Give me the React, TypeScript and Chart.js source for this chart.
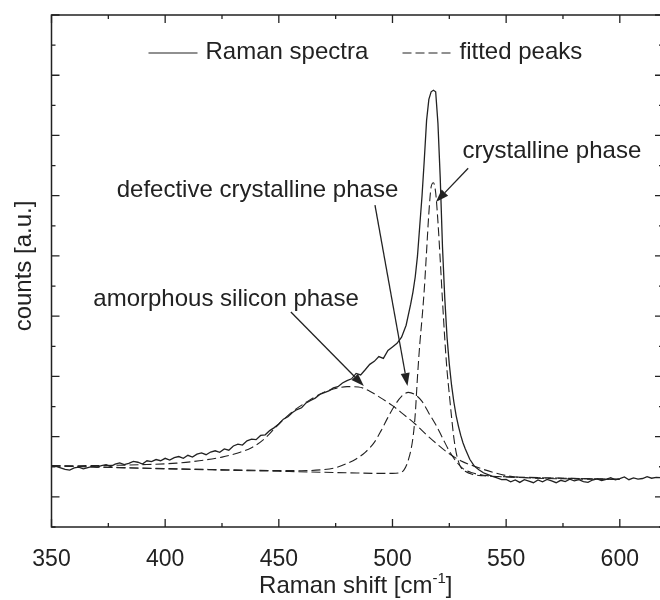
import React, { useEffect, useRef } from "react";
import { Chart, registerables } from "chart.js";

Chart.register(...registerables);

// ---- data (x: Raman shift in cm^-1, y: counts in arbitrary units) ----
const ramanX = [
  350, 352, 354, 356, 358, 360, 362, 364, 366, 368, 370, 372, 374, 376, 378, 380, 382, 384, 386, 388,
  390, 392, 394, 396, 398, 400, 402, 404, 406, 408, 410, 412, 414, 416, 418, 420, 422, 424, 426, 428,
  430, 432, 434, 436, 438, 440, 442, 444, 446, 448, 450, 452, 454, 456, 458, 460, 462, 464, 466, 468,
  470, 472, 474, 476, 478, 480, 482, 484, 486, 488, 490, 492, 494, 496, 498, 500, 502, 504, 506, 508,
  509, 510, 511, 512, 513, 514, 515, 516, 517, 518, 519, 520, 521, 522, 523, 524, 525, 526, 527, 528,
  529, 530, 531, 532, 534, 536, 538, 540, 542, 544, 546, 548, 550, 552, 554, 556, 558, 560, 562, 564,
  566, 568, 570, 572, 574, 576, 578, 580, 582, 584, 586, 588, 590, 592, 594, 596, 598, 600, 602, 604,
  606, 608, 610, 612, 614, 616, 618,
];
const ramanY = [
  1.04, 1.01, 0.96, 0.91, 0.89, 0.96, 0.99, 0.93, 0.97, 1.01, 0.99, 1.04, 1.07, 1.01, 1.09, 1.13, 1.07, 1.11, 1.18, 1.15,
  1.09, 1.2, 1.17, 1.24, 1.2, 1.28, 1.22, 1.3, 1.34, 1.28, 1.38, 1.32, 1.42, 1.46, 1.4, 1.49, 1.53, 1.48, 1.59, 1.55,
  1.69, 1.75, 1.72, 1.86, 1.92, 1.9, 2.04, 2.06, 2.2, 2.3, 2.42, 2.58, 2.66, 2.8, 2.9, 2.96, 3.12, 3.2, 3.28, 3.4,
  3.46, 3.52, 3.62, 3.66, 3.78, 3.86, 3.92, 4.1, 4.05, 4.22, 4.4, 4.5, 4.66, 4.6, 4.86, 4.98, 5.1, 5.3, 5.7, 6.4,
  6.8, 7.3, 8.0, 9.0, 10.0, 11.2, 12.5, 13.2, 13.45, 13.5, 13.45, 12.4, 10.6, 8.3, 6.6, 5.3, 4.4, 3.7, 3.15, 2.7,
  2.35, 2.05, 1.8, 1.6, 1.25, 1.02, 0.9, 0.8, 0.74, 0.68, 0.63, 0.57, 0.58, 0.5, 0.56, 0.48, 0.57, 0.52, 0.47, 0.56,
  0.5, 0.58, 0.53, 0.47, 0.55, 0.51, 0.59, 0.53, 0.57, 0.51, 0.48, 0.56, 0.6, 0.54, 0.58, 0.64, 0.57, 0.61, 0.66, 0.57,
  0.63, 0.59, 0.61, 0.67, 0.62, 0.65, 0.64,
];

const amorphousX = [350, 370, 390, 405, 415, 425, 432, 438, 444, 450, 456, 462, 468, 474, 480, 485, 490, 495, 500, 505, 510, 515, 520, 525, 530, 537, 545, 552, 560, 575, 600];
const amorphousY = [1.03, 1.04, 1.07, 1.12, 1.2, 1.32, 1.46, 1.63, 1.95, 2.42, 2.83, 3.14, 3.41, 3.58, 3.66, 3.65, 3.51, 3.28, 3.03, 2.73, 2.42, 2.06, 1.73, 1.43, 1.2, 0.99, 0.8, 0.68, 0.63, 0.6, 0.58];

const defectiveX = [350, 420, 460, 470, 476, 480, 484, 488, 492, 495, 498, 501, 504, 507, 510, 513, 516, 519, 522, 525, 528, 531, 535, 540, 550, 575, 600];
const defectiveY = [1.03, 0.91, 0.87, 0.91, 0.99, 1.11, 1.26, 1.48, 1.81, 2.2, 2.64, 3.04, 3.34, 3.47, 3.39, 3.17, 2.78, 2.4, 1.96, 1.52, 1.18, 0.94, 0.8, 0.72, 0.66, 0.62, 0.58];

const crystallineX = [350, 400, 450, 480, 495, 500, 503, 505, 507, 509, 510, 511, 512, 513, 514, 515, 516, 517, 518, 519, 520, 521, 522, 523, 524, 525, 526, 527, 528, 529, 530, 532, 535, 540, 550, 575, 600];
const crystallineY = [1.03, 0.93, 0.85, 0.8, 0.78, 0.78, 0.8, 0.89, 1.23, 1.96, 2.73, 3.99, 5.06, 5.93, 6.9, 8.16, 9.42, 10.29, 10.43, 10.1, 9.13, 7.87, 6.51, 5.25, 4.19, 3.41, 2.64, 1.96, 1.48, 1.18, 0.99, 0.85, 0.75, 0.7, 0.67, 0.62, 0.58];

const xTicks = [350, 375, 400, 425, 450, 475, 500, 525, 550, 575, 600];
const xTickLabels = [350, 400, 450, 500, 550, 600];
const legendLabels = ["Raman spectra", "fitted peaks"];
const axisTitles = { x: "Raman shift [cm", xSup: "-1", xEnd: "]", y: "counts [a.u.]" };

// annotations: text anchor (left, baseline) and arrow (start -> tip), in data units
const noteTexts = ["crystalline phase", "defective crystalline phase", "amorphous silicon phase"];
const noteTextX = [530.8, 378.7, 368.4];
const noteTextY = [11.25, 9.96, 6.34];
const arrowFromX = [533.3, 492.3, 455.3];
const arrowFromY = [10.91, 9.69, 6.14];
const arrowToX = [519.1, 506.6, 487.4];
const arrowToY = [9.79, 3.68, 3.68];

const INK = "#222222";
const FONT = '"Liberation Sans", Arial, Helvetica, sans-serif';
const DASH = [9, 4];

const pts = (xs: number[], ys: number[]) => xs.map((x, i) => ({ x, y: ys[i] }));

function drawArrow(ctx: CanvasRenderingContext2D, x0: number, y0: number, x1: number, y1: number) {
  const ang = Math.atan2(y1 - y0, x1 - x0);
  const hl = 13;
  const hw = 4.5;
  const bx = x1 - hl * Math.cos(ang);
  const by = y1 - hl * Math.sin(ang);
  ctx.beginPath();
  ctx.moveTo(x0, y0);
  ctx.lineTo(bx, by);
  ctx.lineWidth = 1.3;
  ctx.stroke();
  ctx.beginPath();
  ctx.moveTo(x1, y1);
  ctx.lineTo(bx + hw * Math.sin(ang), by - hw * Math.cos(ang));
  ctx.lineTo(bx - hw * Math.sin(ang), by + hw * Math.cos(ang));
  ctx.closePath();
  ctx.fill();
}

const decorPlugin = {
  id: "decor",
  afterDraw(chart: any) {
    const { ctx, chartArea: ca } = chart;
    const xs = chart.scales.x;
    const ys = chart.scales.y;
    ctx.save();
    ctx.strokeStyle = INK;
    ctx.fillStyle = INK;
    ctx.setLineDash([]);

    // frame
    ctx.lineWidth = 1.5;
    ctx.strokeRect(ca.left, ca.top, ca.right - ca.left, ca.bottom - ca.top);

    // inward ticks
    ctx.lineWidth = 1.3;
    ctx.beginPath();
    xs.ticks.forEach((t: any) => {
      const v = t.value;
      const px = xs.getPixelForValue(v);
      const len = v % 50 === 0 ? 8 : 4;
      ctx.moveTo(px, ca.bottom);
      ctx.lineTo(px, ca.bottom - len);
      ctx.moveTo(px, ca.top);
      ctx.lineTo(px, ca.top + len);
    });
    ys.ticks.forEach((t: any) => {
      const v = t.value;
      const py = ys.getPixelForValue(v);
      const len = v % 2 === 0 ? 8 : 4;
      ctx.moveTo(ca.left, py);
      ctx.lineTo(ca.left + len, py);
      ctx.moveTo(ca.right, py);
      ctx.lineTo(ca.right - len, py);
    });
    ctx.stroke();

    // legend (inside plot, top)
    ctx.font = `24px ${FONT}`;
    ctx.textBaseline = "alphabetic";
    ctx.textAlign = "left";
    const ly = ca.top + 38;
    ctx.lineWidth = 1.2;
    ctx.beginPath();
    ctx.moveTo(ca.left + 97, ly);
    ctx.lineTo(ca.left + 146, ly);
    ctx.stroke();
    ctx.fillText(legendLabels[0], ca.left + 154, ly + 5.5);
    ctx.setLineDash(DASH);
    ctx.lineWidth = 1.1;
    ctx.beginPath();
    ctx.moveTo(ca.left + 351, ly);
    ctx.lineTo(ca.left + 399, ly);
    ctx.stroke();
    ctx.setLineDash([]);
    ctx.fillText(legendLabels[1], ca.left + 408, ly + 5.5);

    // annotations
    noteTexts.forEach((txt, i) => {
      ctx.fillText(txt, xs.getPixelForValue(noteTextX[i]), ys.getPixelForValue(noteTextY[i]));
      drawArrow(
        ctx,
        xs.getPixelForValue(arrowFromX[i]),
        ys.getPixelForValue(arrowFromY[i]),
        xs.getPixelForValue(arrowToX[i]),
        ys.getPixelForValue(arrowToY[i])
      );
    });

    // x title with superscript
    const big = `24px ${FONT}`;
    const small = `15px ${FONT}`;
    ctx.font = big;
    const w1 = ctx.measureText(axisTitles.x).width;
    const w3 = ctx.measureText(axisTitles.xEnd).width;
    ctx.font = small;
    const w2 = ctx.measureText(axisTitles.xSup).width;
    const total = w1 + w2 + w3;
    const cx = (ca.left + 660) / 2;
    let sx = cx - total / 2;
    const by = 593;
    ctx.font = big;
    ctx.fillText(axisTitles.x, sx, by);
    sx += w1;
    ctx.font = small;
    ctx.fillText(axisTitles.xSup, sx, by - 10);
    sx += w2;
    ctx.font = big;
    ctx.fillText(axisTitles.xEnd, sx, by);

    // y title
    ctx.save();
    ctx.translate(31, (ca.top + ca.bottom) / 2 - 5);
    ctx.rotate(-Math.PI / 2);
    ctx.textAlign = "center";
    ctx.font = big;
    ctx.fillText(axisTitles.y, 0, 0);
    ctx.restore();

    ctx.restore();
  },
};

export default function App() {
  const ref = useRef<HTMLCanvasElement | null>(null);

  useEffect(() => {
    if (!ref.current) return;
    const dashed = {
      borderColor: INK,
      borderWidth: 1.1,
      borderDash: DASH,
      pointRadius: 0,
      fill: false,
      cubicInterpolationMode: "monotone" as const,
    };
    const chart = new Chart(ref.current, {
      type: "line",
      data: {
        datasets: [
          { ...dashed, label: "amorphous", data: pts(amorphousX, amorphousY) },
          { ...dashed, label: "defective", data: pts(defectiveX, defectiveY) },
          { ...dashed, label: "crystalline", data: pts(crystallineX, crystallineY) },
          {
            label: legendLabels[0],
            data: pts(ramanX, ramanY),
            borderColor: INK,
            borderWidth: 1.3,
            pointRadius: 0,
            fill: false,
            tension: 0,
          },
        ],
      },
      options: {
        animation: false,
        responsive: false,
        devicePixelRatio: 1,
        layout: { padding: { left: 0, top: 15, right: 1, bottom: 0 } },
        plugins: { legend: { display: false }, tooltip: { enabled: false } },
        scales: {
          x: {
            type: "linear",
            min: 350,
            max: 619,
            grid: { display: false },
            border: { display: false },
            afterBuildTicks: (s: any) => {
              s.ticks = xTicks.map((value) => ({ value }));
            },
            ticks: {
              autoSkip: false,
              maxRotation: 0,
              padding: 11,
              color: INK,
              font: { family: FONT, size: 23 },
              callback: (v: any) => (xTickLabels.includes(Number(v)) ? String(v) : ""),
            },
            afterFit: (s: any) => {
              s.height = 73;
            },
          },
          y: {
            type: "linear",
            min: -1,
            max: 16,
            grid: { display: false },
            border: { display: false },
            ticks: { stepSize: 1, display: false },
            afterFit: (s: any) => {
              s.width = 51.5;
            },
          },
        },
      },
      plugins: [decorPlugin],
    });
    return () => chart.destroy();
  }, []);

  return (
    <div
      style={{
        position: "fixed",
        left: 0,
        top: 0,
        width: 660,
        height: 600,
        overflow: "hidden",
        background: "#fff",
      }}
    >
      <canvas ref={ref} width={664} height={600} style={{ display: "block", width: 664, height: 600 }} />
    </div>
  );
}
